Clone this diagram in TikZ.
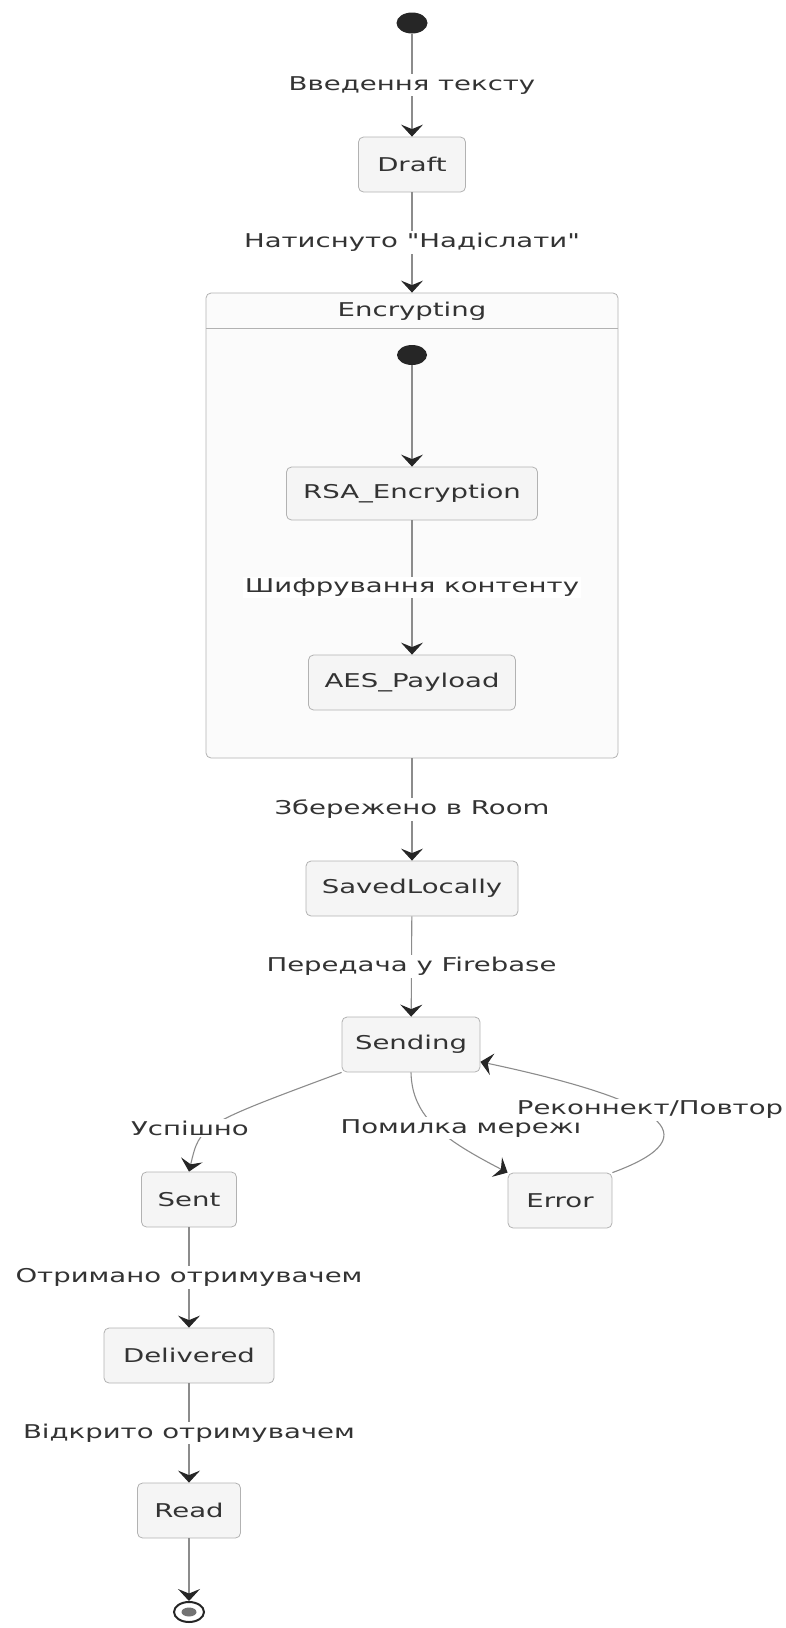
\documentclass[tikz,border=0pt]{standalone}
\usepackage{fontspec}
\setmainfont{DejaVu Sans}[FakeStretch=1.45, Ligatures=TeXOff]
\usetikzlibrary{arrows.meta, positioning, shapes.geometric}

\begin{document}
\begin{tikzpicture}[x=1pt, y=-1pt,
        txt/.style={font=\fontsize{19}{22}\selectfont, text=black!80},
        statebox/.style={txt, draw=black!30, fill=black!4, rounded corners=5pt, line width=0.8pt, inner sep=0pt, minimum height=55pt},
        lbl/.style={txt, fill=white, inner sep=2pt},
        tr/.style={draw=black!45, line width=1.1pt, -{Stealth[length=12pt, width=22pt, inset=4.5pt, color=black!85]}},
        dot/.style={ellipse, fill=black!85, minimum width=31pt, minimum height=21pt, inner sep=0pt}]
    \useasboundingbox (0,0) rectangle (785,1628);

    \node[dot] (start) at (412,23) {};
    \node[statebox, minimum width=107pt] (draft) at (412,164.5) {Draft};

    \node[statebox, fill=black!1.5, minimum width=412pt, minimum height=465pt] (encrypting) at (412,525.5) {};
    \node[txt] (enctitle) at (412,311) {Encrypting};
    \draw[black!30, line width=0.8pt] (206,328) -- (618,328);
    \node[dot, minimum width=30pt, minimum height=20pt] (istart) at (412,355) {};
    \node[statebox, minimum width=251pt, minimum height=53pt] (rsa) at (412,493.5) {RSA\_Encryption};
    \node[statebox, minimum width=207pt] (aes) at (412,682.5) {AES\_Payload};

    \node[statebox, minimum width=212pt] (saved) at (412,888.5) {SavedLocally};
    \node[statebox, minimum width=138pt] (sending) at (411,1044.5) {Sending};
    \node[statebox, minimum width=95pt] (sent) at (189,1199.5) {Sent};
    \node[statebox, minimum width=104pt] (error) at (560,1200.5) {Error};
    \node[statebox, minimum width=170pt] (delivered) at (189,1355.5) {Delivered};
    \node[statebox, minimum width=103pt] (read) at (189,1510.5) {Read};
    \node[ellipse, draw=black!85, line width=2pt, fill=white, minimum width=30pt, minimum height=20pt, inner sep=0pt] (end) at (189,1612) {};
    \node[ellipse, fill=black!55, minimum width=15pt, minimum height=9pt, inner sep=0pt] (endcore) at (end) {};

    \draw[tr] (start) -- node[lbl] {Введення тексту} (draft);
    \draw[tr] (draft) -- node[lbl] {Натиснуто "Надіслати"} (encrypting);
    \draw[tr] (istart) -- (rsa);
    \draw[tr] (rsa) -- node[lbl] {Шифрування контенту} (aes);
    \draw[tr] (encrypting) -- node[lbl] {Збережено в Room} (saved);
    \draw[tr] (saved) -- node[lbl] {Передача у Firebase} (sending);

    \draw[tr] (sending.south west) .. controls (200,1125) .. (sent.north);
    \draw[tr] (sending.south) .. controls (412,1118) and (445,1140) .. (error.north west);
    \draw[tr] (error.north east) .. controls (715,1135) and (660,1100) .. (sending.-14);
    \node[lbl] (okay) at (190,1128) {Успішно};
    \node[lbl] (neterr) at (461,1128) {Помилка мережі};
    \node[lbl] (retry) at (650,1110) {Реконнект/Повтор};

    \draw[tr] (sent) -- node[lbl] {Отримано отримувачем} (delivered);
    \draw[tr] (delivered) -- node[lbl] {Відкрито отримувачем} (read);
    \draw[tr] (read) -- (end);
\end{tikzpicture}
\end{document}
